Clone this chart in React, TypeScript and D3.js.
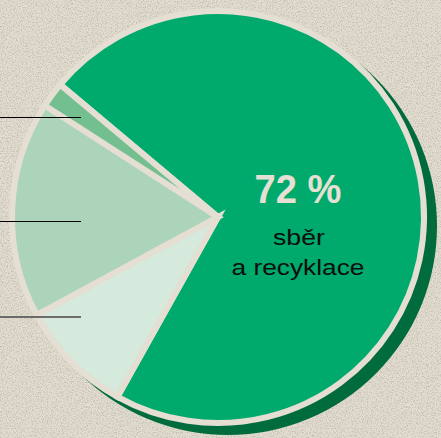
import * as d3 from "d3";
import React, { useRef, useEffect } from "react";

// share of waste handling (labels of the small slices are cut off)
const categories = ["sběr a recyklace", "jiné 1", "jiné 2", "jiné 3"];
const values = [72, 9, 17, 2];
const sliceColors = ["#00aa6c", "#d5e9dc", "#acd4bb", "#74bf90"];
const mainLabel = ["72 %", "sběr", "a recyklace"];

const width = 441;
const height = 438;
const cx = 218;
const cy = 217;
const radius = 206;
const startDeg = -50;
const leaderY = [117.5, 221.5, 317];

const App = () => {
	const d3Container = useRef(null);

	useEffect(() => {
		if (d3Container.current) {
			const svg = d3.select(d3Container.current);
			svg.selectAll("*").remove();
			renderChart(svg);
		}
	}, []);

	const renderChart = (svg: any) => {
		const defs = svg.append("defs");
		const grain = defs
			.append("filter")
			.attr("id", "grain")
			.attr("x", 0)
			.attr("y", 0)
			.attr("width", "100%")
			.attr("height", "100%");
		grain
			.append("feTurbulence")
			.attr("type", "fractalNoise")
			.attr("baseFrequency", 0.8)
			.attr("numOctaves", 3)
			.attr("seed", 7);
		grain
			.append("feColorMatrix")
			.attr("type", "matrix")
			.attr(
				"values",
				"0 0 0 0 0.40  0 0 0 0 0.38  0 0 0 0 0.32  2.4 0 0 0 -1.05"
			);

		// stone-like background
		svg
			.append("rect")
			.attr("width", width)
			.attr("height", height)
			.attr("fill", "#e2ddcf");
		svg
			.append("rect")
			.attr("width", width)
			.attr("height", height)
			.attr("filter", "url(#grain)")
			.attr("opacity", 0.7);

		const g = svg.append("g").attr("transform", `translate(${cx},${cy})`);

		// dark green shadow behind the disc
		g.append("circle")
			.attr("cx", 10)
			.attr("cy", 9)
			.attr("r", radius + 3)
			.attr("fill", "#006b3c");

		const start = (startDeg * Math.PI) / 180;
		const pie = d3
			.pie<number>()
			.sort(null)
			.startAngle(start)
			.endAngle(start + 2 * Math.PI);
		const arc = d3.arc<any>().innerRadius(0).outerRadius(radius);

		g.selectAll(".slice")
			.data(pie(values))
			.enter()
			.append("path")
			.attr("class", "slice")
			.attr("d", arc)
			.attr("fill", (d: any, i: number) => sliceColors[i])
			.attr("stroke", "#e4ded3")
			.attr("stroke-width", 6)
			.attr("stroke-linejoin", "miter")
			.append("title")
			.text((d: any, i: number) => `${categories[i]}: ${values[i]} %`);

		// leader lines for the labels outside the picture
		svg
			.selectAll(".leader")
			.data(leaderY)
			.enter()
			.append("line")
			.attr("class", "leader")
			.attr("x1", 0)
			.attr("x2", 81)
			.attr("y1", (d: number) => d)
			.attr("y2", (d: number) => d)
			.attr("stroke", (d: number, i: number) => (i === 2 ? "#6b6b6b" : "#000"))
			.attr("stroke-width", (d: number, i: number) => (i === 2 ? 2 : 1))
			.attr("shape-rendering", "crispEdges");

		const label = svg.append("g").attr("font-family", "'Liberation Sans', Arial, sans-serif");
		label
			.append("text")
			.attr("x", 298)
			.attr("y", 203)
			.attr("text-anchor", "middle")
			.attr("font-size", 41)
			.attr("font-weight", "bold")
			.attr("fill", "#e6e0d4")
			.attr("textLength", 87)
			.attr("lengthAdjust", "spacingAndGlyphs")
			.text(mainLabel[0]);
		label
			.append("text")
			.attr("x", 299)
			.attr("y", 245)
			.attr("text-anchor", "middle")
			.attr("font-size", 22)
			.attr("fill", "#0d0d0d")
			.attr("textLength", 52)
			.attr("lengthAdjust", "spacingAndGlyphs")
			.text(mainLabel[1]);
		label
			.append("text")
			.attr("x", 298)
			.attr("y", 275)
			.attr("text-anchor", "middle")
			.attr("font-size", 22)
			.attr("fill", "#0d0d0d")
			.attr("textLength", 133)
			.attr("lengthAdjust", "spacingAndGlyphs")
			.text(mainLabel[2]);
	};

	return (
		<svg
			width={width}
			height={height}
			style={{ position: "absolute", left: 0, top: 0, display: "block" }}
			ref={d3Container}
		/>
	);
};

export default App;
